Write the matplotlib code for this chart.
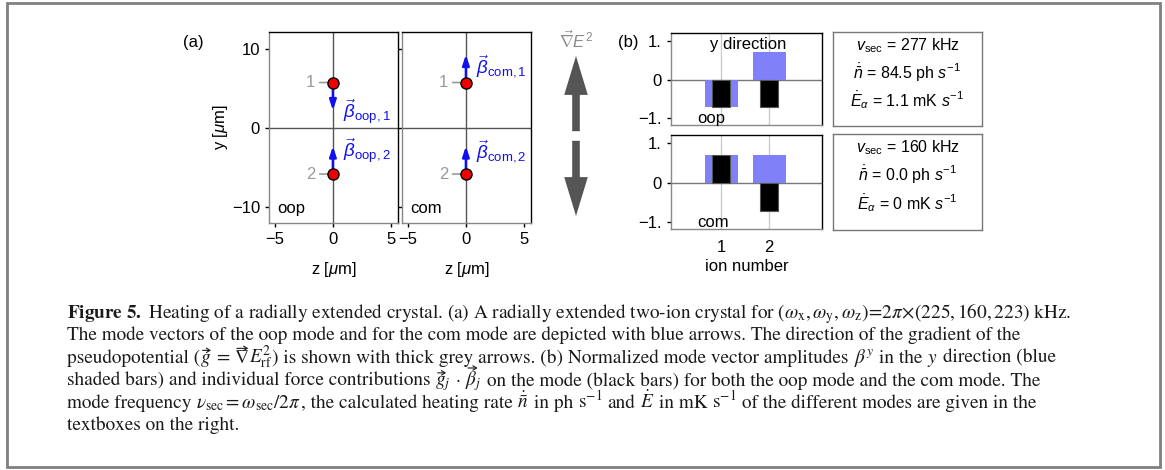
import matplotlib
matplotlib.use('Agg')
import matplotlib.pyplot as plt
from matplotlib.patches import Rectangle, FancyArrowPatch

plt.rcParams['font.family'] = ['Liberation Sans', 'DejaVu Sans']
plt.rcParams['mathtext.fontset'] = 'custom'
plt.rcParams['mathtext.rm'] = 'Liberation Sans'
plt.rcParams['mathtext.it'] = 'Liberation Sans:italic'
plt.rcParams['mathtext.bf'] = 'Liberation Sans:bold'

# data
ion_number = [1, 2]
ion_z = [0.0, 0.0]
ion_y = [5.8, -5.8]
beta_oop = [-0.707, 0.707]
beta_com = [0.707, 0.707]
force_oop = [-0.707, -0.707]
force_com = [0.707, -0.707]
grad_dir = [1, -1]
nu_sec = [277, 160]
ndot = [84.5, 0.0]
edot = [1.1, 0]
mode_names = ['oop', 'com']

W, H = 1165, 470
fig = plt.figure(figsize=(W / 100, H / 100), dpi=100)


def box(x0, y0, x1, y1):
    return [x0 / W, 1 - y1 / H, (x1 - x0) / W, (y1 - y0) / H]


def frame(ax):
    for s in ['left', 'bottom']:
        ax.spines[s].set_color('#888888')
    for s in ['top', 'right']:
        ax.spines[s].set_color('black')
    for s in ax.spines.values():
        s.set_linewidth(1)


blue = '#1010ee'
fs = 12

# (a) crystal panels
for k, (name, beta) in enumerate(zip(mode_names, [beta_oop, beta_com])):
    ax = fig.add_axes(box(269 + 133 * k, 32, 398 + 133 * k, 223))
    ax.set_xlim(-5.5, 5.6)
    ax.set_ylim(-12, 12.2)
    ax.axhline(0, color='#555555', lw=1, zorder=1)
    ax.axvline(0, color='#555555', lw=1, zorder=1)
    for j in range(2):
        ax.annotate('', xy=(ion_z[j], ion_y[j] + 5 * beta[j]), xytext=(ion_z[j], ion_y[j]),
                    arrowprops=dict(arrowstyle='-|>,head_length=0.6,head_width=0.2',
                                    color=blue, lw=1.8, shrinkA=0, shrinkB=0), zorder=3)
        ax.plot(ion_z[j], ion_y[j], 'o', ms=8, mfc='#ee0000', mec='black', mew=1, zorder=4)
        ax.annotate(str(ion_number[j]), xy=(ion_z[j] - 0.4, ion_y[j]), xytext=(-1.9, ion_y[j]),
                    ha='center', va='center', color='#999999', fontsize=fs,
                    arrowprops=dict(arrowstyle='-', color='#999999', lw=1.2, shrinkA=1, shrinkB=0))
        ty = ion_y[j] + 5 * beta[j] - 1.5 if beta[j] > 0 and j == 0 else (2.0 if j == 0 else -3.0)
        ax.text(0.9, ty, r'$\vec{\beta}_{\rm %s,%d}$' % (name, ion_number[j]),
                color=blue, fontsize=fs + 1.5, va='center')
    ax.text(-4.8, -10.2, name, fontsize=fs, va='center')
    ax.set_xticks([-5, 0, 5])
    ax.set_yticks([-10, 0, 10])
    ax.tick_params(labelsize=fs, length=3, width=1)
    if k == 0:
        ax.set_ylabel(r'y [$\mu$m]', fontsize=fs, labelpad=1)
    else:
        ax.set_yticklabels([])
    ax.set_xlabel(r'z [$\mu$m]', fontsize=fs, labelpad=9)
    frame(ax)

fig.text(193 / W, 1 - 43 / H, '(a)', fontsize=fs, ha='center', va='center')
fig.text(628 / W, 1 - 43 / H, '(b)', fontsize=fs, ha='center', va='center')
fig.text(576 / W, 1 - 40 / H, r'$\vec{\nabla}E^2$', fontsize=fs, color='#888888',
         ha='center', va='center')

# gradient arrows
axg = fig.add_axes(box(555, 52, 597, 220))
axg.set_xlim(-1, 1)
axg.set_ylim(-1.05, 1.05)
axg.axis('off')
for d in grad_dir:
    axg.annotate('', xy=(0, d), xytext=(0, 0.06 * d),
                 arrowprops=dict(arrowstyle='simple,head_length=2.8,head_width=1.7,tail_width=0.55',
                                 color='#555555', lw=0, shrinkA=0, shrinkB=0))

# (b) bar panels
for k, (name, beta, force) in enumerate(zip(mode_names, [beta_oop, beta_com], [force_oop, force_com])):
    y0, y1 = [(33, 125), (135, 229)][k]
    ax = fig.add_axes(box(671, y0, 822, y1))
    ax.set_xlim(-0.05, 3.1)
    ax.set_ylim(-1.17, 1.2)
    ax.axvline(1, color='#cccccc', lw=1, zorder=0)
    ax.axvline(2, color='#cccccc', lw=1, zorder=0)
    ax.bar(ion_number, beta, width=0.69, color='#8080f8', zorder=2)
    ax.bar(ion_number, force, width=0.37, color='black', edgecolor='#555555', lw=0.8, zorder=3)
    ax.axhline(0, color='#777777', lw=1, zorder=1)
    ax.set_yticks([-1, 0, 1])
    ax.set_yticklabels(['\u22121.', '0', '1.'])
    ax.set_xticks(ion_number)
    ax.tick_params(labelsize=fs, length=3, width=1)
    ax.tick_params(axis='x', length=0)
    ax.text(0.5, -1.0, name, fontsize=fs, va='center')
    if k == 0:
        ax.set_xticklabels([])
        ax.text(1.55, 0.9, 'y direction', fontsize=fs, ha='center', va='center')
    else:
        ax.set_xlabel('ion number', fontsize=fs, labelpad=3)
        ax.tick_params(axis='x', pad=8)
    frame(ax)

    # text box
    axt = fig.add_axes(box(833, y0 - 1, 982, y1 + 1))
    axt.set_xticks([])
    axt.set_yticks([])
    for s in axt.spines.values():
        s.set_color('#777777')
        s.set_linewidth(1)
    lines = [r'$v_{\rm sec}$ = %d kHz' % nu_sec[k],
             r'$\dot{\bar{n}}$ = %.1f ph $s^{-1}$' % ndot[k],
             r'$\dot{E}_{\alpha}$ = %g mK $s^{-1}$' % edot[k]]
    for i, t in enumerate(lines):
        axt.text(0.5, 0.86 - 0.29 * i, t, fontsize=fs - 0.5, ha='center', va='center',
                 transform=axt.transAxes)

# caption: pieces are (text, symbol that carries a vector arrow or None)
caption = [
    [(r'$\mathbf{Figure\ 5.}$ Heating of a radially extended crystal. (a) A radially extended two-ion crystal for '
      r'$(\omega_{\rm x}, \omega_{\rm y}, \omega_{\rm z})\!=\!2\pi\!\times\!(225, 160, 223)$ kHz.', None)],
    [('The mode vectors of the oop mode and for the com mode are depicted with blue arrows. '
      'The direction of the gradient of the', None)],
    [('pseudopotential (', None), (r'$g$', r'$g$'), (' = ', None), (r'$\nabla$', r'$\nabla$'),
     (r'$E_{\rm rf}^2$', None),
     (') is shown with thick grey arrows. (b) Normalized mode vector amplitudes ', None), (r'$\beta^y$', None),
     (' in the ', None), (r'$y$', None), (' direction (blue', None)],
    [('shaded bars) and individual force contributions ', None), (r'$g_j$', r'$g$'), (' \u00b7 ', None),
     (r'$\beta_j$', r'$\beta$'), (' on the mode (black bars) for both the oop mode and the com mode. The', None)],
    [('mode frequency ', None), (r'$\nu_{\rm sec} = \omega_{\rm sec}/2\pi$', None),
     (', the calculated heating rate ', None), (r'$\dot{\bar{n}}$', None), (' in ph ', None),
     (r'$\mathrm{s}^{-1}$', None), (' and ', None), (r'$\dot{E}$', None), (' in mK ', None),
     (r'$\mathrm{s}^{-1}$', None), (' of the different modes are given in the', None)],
    [('textboxes on the right.', None)],
]
cap_fs = 13.9
cap_col = '#1a1a1a'
renderer = fig.canvas.get_renderer()


def cap_text(x, y, s):
    t = fig.text(x / W, y / H, s, fontsize=cap_fs, family='STIXGeneral', ha='left',
                 va='baseline', color=cap_col)
    t.set_math_fontfamily('stix')
    return t


probe = cap_text(0, 0, 'a a')
w_sp = probe.get_window_extent(renderer).width
probe.set_text('aa')
w_sp -= probe.get_window_extent(renderer).width
probe.remove()

for i, parts in enumerate(caption):
    x = 67.0
    yb = H - (318 + 22.5 * i)
    for s, sym in parts:
        if s.startswith(' '):
            x += w_sp
        t = cap_text(x, yb, s.strip())
        bb = t.get_window_extent(renderer)
        if sym is not None:
            # vector arrow drawn as a small line arrow over the symbol
            p = cap_text(x, yb, sym)
            sb = p.get_window_extent(renderer)
            p.remove()
            cx = x + sb.width / 2 + 1.0
            half = max(3.5, sb.width * 0.38)
            ya = sb.y1 + 1.5
            fig.patches.append(FancyArrowPatch((cx - half, ya), (cx + half, ya), transform=None,
                                               arrowstyle='->,head_length=2.6,head_width=1.6',
                                               mutation_scale=1, lw=0.8, color=cap_col,
                                               shrinkA=0, shrinkB=0))
        x += bb.width
        if s.endswith(' '):
            x += w_sp

fig.patches.append(Rectangle((7 / W, 3 / H), 1153 / W, 464 / H, transform=fig.transFigure,
                             fill=False, edgecolor='#808080', lw=2))

fig.savefig('out.png', dpi=100)
